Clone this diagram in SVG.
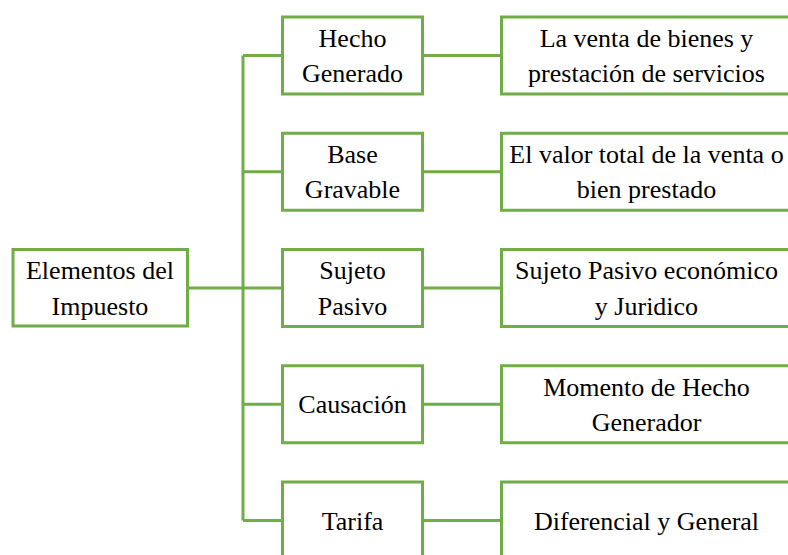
<svg xmlns="http://www.w3.org/2000/svg" width="788" height="555" viewBox="0 0 788 555">
<style>
.box{fill:#fff;stroke:#70AD47;stroke-width:3}
.ln{fill:none;stroke:#70AD47;stroke-width:3}
text{font-family:"Liberation Serif","Times New Roman",serif;font-size:26px;fill:#000;text-anchor:middle}
</style>
<rect width="788" height="555" fill="#fff"/>
<g id="connectors">
<path class="ln" d="M187.5 288H243M243 55.5V520.5"/>
<path class="ln" d="M243 55.5H282.5M422.5 55.5H501.5"/>
<path class="ln" d="M243 171.75H282.5M422.5 171.75H501.5"/>
<path class="ln" d="M243 288H282.5M422.5 288H501.5"/>
<path class="ln" d="M243 404.25H282.5M422.5 404.25H501.5"/>
<path class="ln" d="M243 520.5H282.5M422.5 520.5H501.5"/>
</g>
<g id="root">
<rect class="box" x="13" y="249.5" width="174.5" height="76.5"/>
<text x="100" y="279.3">Elementos del</text>
<text x="100" y="314.5">Impuesto</text>
</g>
<g id="hecho">
<rect class="box" x="282.5" y="17" width="140" height="77"/>
<text x="352.5" y="46.7">Hecho</text>
<text x="352.5" y="81.7">Generado</text>
</g>
<g id="hecho-desc">
<rect class="box" x="501.5" y="17" width="292" height="77"/>
<text x="646.5" y="46.7">La venta de bienes y</text>
<text x="646.5" y="81.7">prestación de servicios</text>
</g>
<g id="base">
<rect class="box" x="282.5" y="133.25" width="140" height="77"/>
<text x="352.5" y="163">Base</text>
<text x="352.5" y="198">Gravable</text>
</g>
<g id="base-desc">
<rect class="box" x="501.5" y="133.25" width="292" height="77"/>
<text x="646.5" y="163">El valor total de la venta o</text>
<text x="646.5" y="198">bien prestado</text>
</g>
<g id="sujeto">
<rect class="box" x="282.5" y="249.5" width="140" height="77"/>
<text x="352.5" y="279.3">Sujeto</text>
<text x="352.5" y="314.5">Pasivo</text>
</g>
<g id="sujeto-desc">
<rect class="box" x="501.5" y="249.5" width="292" height="77"/>
<text x="646.5" y="279.3">Sujeto Pasivo económico</text>
<text x="646.5" y="314.5">y Juridico</text>
</g>
<g id="causacion">
<rect class="box" x="282.5" y="365.75" width="140" height="77"/>
<text x="352.5" y="413.3">Causación</text>
</g>
<g id="causacion-desc">
<rect class="box" x="501.5" y="365.75" width="292" height="77"/>
<text x="646.5" y="395.5">Momento de Hecho</text>
<text x="646.5" y="430.5">Generador</text>
</g>
<g id="tarifa">
<rect class="box" x="282.5" y="482" width="140" height="77"/>
<text x="352.5" y="529.7">Tarifa</text>
</g>
<g id="tarifa-desc">
<rect class="box" x="501.5" y="482" width="292" height="77"/>
<text x="646.5" y="529.7">Diferencial y General</text>
</g>
</svg>
